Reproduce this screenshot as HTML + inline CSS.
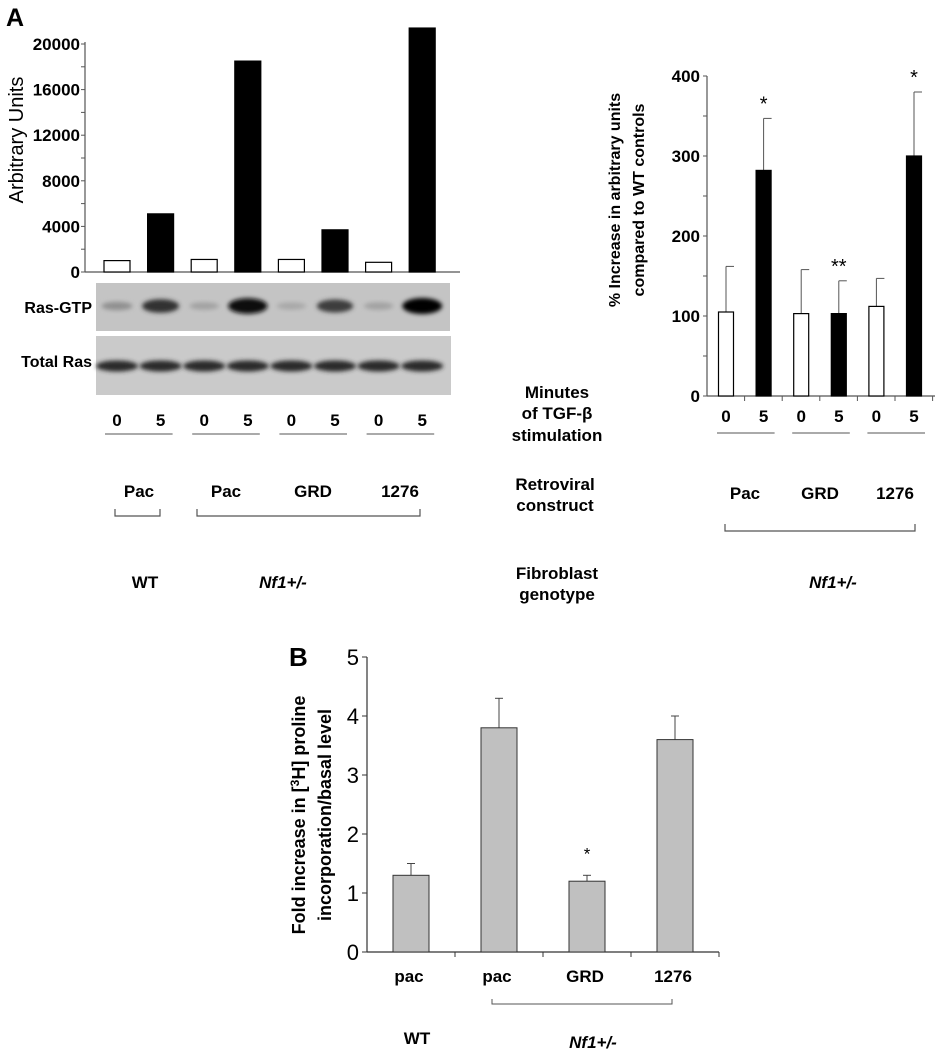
<!DOCTYPE html>
<html><head><meta charset="utf-8"><style>
body{margin:0;background:#fff}
svg{display:block;font-family:"Liberation Sans",Arial,sans-serif}
.b{font-weight:bold}
</style></head><body>
<svg id="fig" width="939" height="1050" viewBox="0 0 939 1050">
<defs><filter id="blur" x="-20%" y="-50%" width="140%" height="200%"><feGaussianBlur stdDeviation="2"/></filter></defs>
<text x="6" y="26" class="b" font-size="25">A</text>
<g id="c1"></g>
<g id="blots">
<rect x="96" y="283" width="354" height="48" fill="#c4c4c4"/>
<rect x="96" y="336" width="355" height="59" fill="#cacaca"/>
<text x="92" y="313" text-anchor="end" class="b" font-size="16">Ras-GTP</text>
<text x="92" y="367" text-anchor="end" class="b" font-size="16">Total Ras</text>
</g>
<g id="c2"></g>
<g class="b" font-size="17">
<text x="557" y="398" text-anchor="middle">Minutes</text>
<text x="557" y="419" text-anchor="middle">of TGF-β</text>
<text x="557" y="441" text-anchor="middle">stimulation</text>
<text x="555" y="490" text-anchor="middle">Retroviral</text>
<text x="555" y="511" text-anchor="middle">construct</text>
<text x="557" y="579" text-anchor="middle">Fibroblast</text>
<text x="557" y="600" text-anchor="middle">genotype</text>
<text x="139" y="497" text-anchor="middle">Pac</text>
<text x="226" y="497" text-anchor="middle">Pac</text>
<text x="313" y="497" text-anchor="middle">GRD</text>
<text x="400" y="497" text-anchor="middle">1276</text>
<text x="745" y="499" text-anchor="middle">Pac</text>
<text x="820" y="499" text-anchor="middle">GRD</text>
<text x="895" y="499" text-anchor="middle">1276</text>
<text x="145" y="588" text-anchor="middle">WT</text>
<text x="283" y="588" text-anchor="middle" font-style="italic">Nf1+/-</text>
<text x="833" y="588" text-anchor="middle" font-style="italic">Nf1+/-</text>
</g>
<g stroke="#555" fill="none" stroke-width="1.2">
<path d="M115,509V516H160V509"/>
<path d="M197,509V516H420V509"/>
<path d="M725,524V531H915V524"/>
</g>
<text x="289" y="666" class="b" font-size="26">B</text>
<g id="c3"></g>
</svg>
<script>
// Chart 1 data
const c1Values=[1000,5100,1100,18500,1100,3700,850,21400];
const c1Ticks=[0,4000,8000,12000,16000,20000];
const lanes=["0","5","0","5","0","5","0","5"];
const gtpIntensity=[0.25,0.75,0.15,0.95,0.12,0.7,0.15,1.0];
// Chart 2 data
const c2Values=[105,282,103,103,112,300];
const c2Err=[162,347,158,144,147,380];
const c2Stars=["","*","","**","","*"];
const c2Ticks=[0,100,200,300,400];
const c2Lanes=["0","5","0","5","0","5"];
// Chart 3 data
const c3Cats=["pac","pac","GRD","1276"];
const c3Values=[1.3,3.8,1.2,3.6];
const c3Err=[1.5,4.3,1.3,4.0];
const c3Stars=["","","*",""];
const c3Ticks=[0,1,2,3,4,5];

const NS="http://www.w3.org/2000/svg";
function mk(p,t,a,txt){const e=document.createElementNS(NS,t);for(const k in a)e.setAttribute(k,a[k]);if(txt!=null)e.textContent=txt;p.appendChild(e);return e;}

// ---- chart 1
(function(){
const g=document.getElementById('c1');
const y=v=>272-v*(228/20000), x=i=>117+i*43.6;
let e=mk(g,'line',{x1:85,y1:42,x2:85,y2:272,stroke:'#555','stroke-width':1.2});

e=mk(g,'line',{x1:85,y1:272,x2:460,y2:272,stroke:'#555','stroke-width':1.2});

for(let v=0;v<=20000;v+=2000){mk(g,'line',{x1:81,y1:y(v),x2:85,y2:y(v),stroke:'#555'});}
c1Ticks.forEach(v=>{e=mk(g,'text',{x:80,y:y(v)+6,'text-anchor':'end','font-size':17,'font-weight':'bold'},v);
});
e=mk(g,'text',{transform:'translate(23,140) rotate(-90)','text-anchor':'middle','font-size':20},'Arbitrary Units');

c1Values.forEach((v,i)=>{const w=i%2===0;
e=mk(g,'rect',{x:x(i)-13,y:y(v),width:26,height:272-y(v),fill:w?'#fff':'#000',stroke:'#000','stroke-width':1.2});

e=mk(g,'text',{x:x(i),y:426,'text-anchor':'middle','font-size':17,'font-weight':'bold'},lanes[i]);
});
for(let k=0;k<4;k++){e=mk(g,'line',{x1:x(2*k)-12,y1:434,x2:x(2*k+1)+12,y2:434,stroke:'#555'});
}
const b=document.getElementById('blots');
gtpIntensity.forEach((v,i)=>{const c=Math.round(190-185*v);
e=mk(b,'ellipse',{cx:x(i),cy:306,rx:14+6*v,ry:3+5*v,fill:`rgb(${c},${c},${c})`,filter:'url(#blur)'});

e=mk(b,'ellipse',{cx:x(i),cy:366,rx:21,ry:5.5,fill:'#2a2a2a',filter:'url(#blur)'});
});
})();

// ---- chart 2
(function(){
const g=document.getElementById('c2');
const y=v=>396-v*0.8, x=i=>726+i*37.6;
let e=mk(g,'line',{x1:707,y1:76,x2:707,y2:396,stroke:'#555','stroke-width':1.2});

e=mk(g,'line',{x1:707,y1:396,x2:935,y2:396,stroke:'#555','stroke-width':1.2});

for(let v=0;v<=400;v+=50)mk(g,'line',{x1:703,y1:y(v),x2:707,y2:y(v),stroke:'#555'});
for(let k=1;k<=6;k++)mk(g,'line',{x1:707+k*37.6,y1:396,x2:707+k*37.6,y2:401,stroke:'#555'});
c2Ticks.forEach(v=>{e=mk(g,'text',{x:700,y:y(v)+6,'text-anchor':'end','font-size':17,'font-weight':'bold'},v);
});
e=mk(g,'text',{transform:'translate(620,200) rotate(-90)','text-anchor':'middle','font-size':16,'font-weight':'bold'},'% Increase  in arbitrary units');

e=mk(g,'text',{transform:'translate(644,200) rotate(-90)','text-anchor':'middle','font-size':16,'font-weight':'bold'},'compared to WT controls');

c2Values.forEach((v,i)=>{const cx=x(i);
e=mk(g,'line',{x1:cx,y1:y(v),x2:cx,y2:y(c2Err[i]),stroke:'#555'});

mk(g,'line',{x1:cx,y1:y(c2Err[i]),x2:cx+8,y2:y(c2Err[i]),stroke:'#555'});
e=mk(g,'rect',{x:cx-7.5,y:y(v),width:15,height:396-y(v),fill:i%2?'#000':'#fff',stroke:'#000','stroke-width':1.2});

if(c2Stars[i]){e=mk(g,'text',{x:cx,y:y(c2Err[i])-8,'text-anchor':'middle','font-size':20},c2Stars[i]);
}
e=mk(g,'text',{x:cx,y:422,'text-anchor':'middle','font-size':17,'font-weight':'bold'},c2Lanes[i]);
});
for(let k=0;k<3;k++){e=mk(g,'line',{x1:x(2*k)-9,y1:433,x2:x(2*k+1)+11,y2:433,stroke:'#555'});
}
})();

// ---- chart 3
(function(){
const g=document.getElementById('c3');
const y=v=>952-v*59, x=i=>411+i*88;
let e=mk(g,'line',{x1:367,y1:657,x2:367,y2:952,stroke:'#333','stroke-width':1.2});

e=mk(g,'line',{x1:367,y1:952,x2:719,y2:952,stroke:'#333','stroke-width':1.2});

for(let k=1;k<=4;k++)mk(g,'line',{x1:367+k*88,y1:952,x2:367+k*88,y2:957,stroke:'#333'});
c3Ticks.forEach(v=>{mk(g,'line',{x1:362,y1:y(v),x2:367,y2:y(v),stroke:'#333'});
e=mk(g,'text',{x:359,y:y(v)+8,'text-anchor':'end','font-size':22},v);
});
e=mk(g,'text',{transform:'translate(305,815) rotate(-90)','text-anchor':'middle','font-size':18,'font-weight':'bold'});
e.innerHTML='Fold increase in [<tspan dy="-6" font-size="12">3</tspan><tspan dy="6">H] proline</tspan>';

e=mk(g,'text',{transform:'translate(331,815) rotate(-90)','text-anchor':'middle','font-size':18,'font-weight':'bold'},'incorporation/basal level');

c3Values.forEach((v,i)=>{const cx=x(i);
e=mk(g,'line',{x1:cx,y1:y(v),x2:cx,y2:y(c3Err[i]),stroke:'#444'});

mk(g,'line',{x1:cx-4,y1:y(c3Err[i]),x2:cx+4,y2:y(c3Err[i]),stroke:'#444'});
e=mk(g,'rect',{x:cx-18,y:y(v),width:36,height:952-y(v),fill:'#c0c0c0',stroke:'#333','stroke-width':1});

if(c3Stars[i]){e=mk(g,'text',{x:cx,y:y(c3Err[i])-16,'text-anchor':'middle','font-size':17},c3Stars[i]);
}
e=mk(g,'text',{x:cx-2,y:982,'text-anchor':'middle','font-size':17,'font-weight':'bold'},c3Cats[i]);
});
e=mk(g,'path',{d:'M492,999V1004H672V999',stroke:'#555',fill:'none'});

e=mk(g,'text',{x:417,y:1044,'text-anchor':'middle','font-size':17,'font-weight':'bold'},'WT');

e=mk(g,'text',{x:593,y:1048,'text-anchor':'middle','font-size':17,'font-weight':'bold','font-style':'italic'},'Nf1+/-');

})();
</script>
</body></html>
